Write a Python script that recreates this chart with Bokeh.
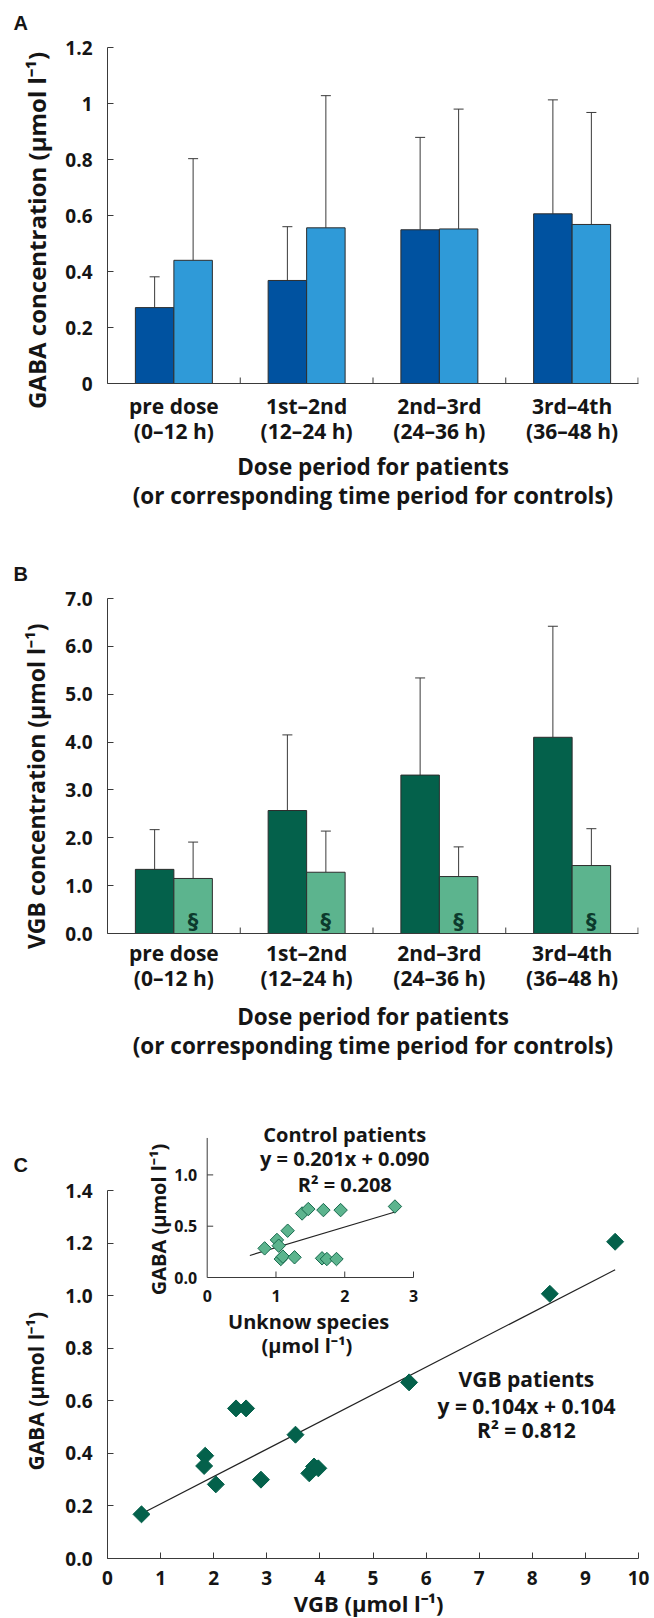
import numpy as np
from bokeh.plotting import figure
from bokeh.layouts import column
from bokeh.models import (ColumnDataSource, FactorRange, Range1d, Whisker, TeeHead,
                          Label, FixedTicker)
from bokeh.transform import dodge
from bokeh.core.properties import value
from bokeh.embed import file_html
from bokeh.resources import INLINE

# ---------------- data ----------------
periods = ["pre dose\n(0–12 h)", "1st–2nd\n(12–24 h)", "2nd–3rd\n(24–36 h)", "3rd–4th\n(36–48 h)"]

gaba_pat_mean = [0.271, 0.368, 0.549, 0.606]
gaba_pat_sd = [0.110, 0.192, 0.330, 0.407]
gaba_ctl_mean = [0.440, 0.556, 0.552, 0.568]
gaba_ctl_sd = [0.363, 0.472, 0.428, 0.400]

vgb_pat_mean = [1.34, 2.57, 3.31, 4.10]
vgb_pat_sd = [0.83, 1.58, 2.03, 2.32]
unk_ctl_mean = [1.15, 1.28, 1.19, 1.42]
unk_ctl_sd = [0.76, 0.86, 0.62, 0.77]
sig_marks = ["§", "§", "§", "§"]

gaba_ticks = [0, 0.2, 0.4, 0.6, 0.8, 1.0, 1.2]
gaba_tick_labels = ["0", "0.2", "0.4", "0.6", "0.8", "1", "1.2"]
vgb_ticks = [0, 1, 2, 3, 4, 5, 6, 7]
vgb_tick_labels = ["0.0", "1.0", "2.0", "3.0", "4.0", "5.0", "6.0", "7.0"]

# panel C, VGB patients
vgb_x = [0.64, 1.84, 1.82, 2.04, 2.42, 2.61, 2.89, 3.54, 3.80, 3.89, 3.97, 5.68, 8.33, 9.56]
vgb_gaba = [0.168, 0.391, 0.352, 0.282, 0.571, 0.571, 0.300, 0.471, 0.324, 0.350, 0.343, 0.670, 1.007, 1.205]
vgb_slope, vgb_icpt = 0.104, 0.104
c_xticks = [0, 1, 2, 3, 4, 5, 6, 7, 8, 9, 10]
c_xtick_labels = ["0", "1", "2", "3", "4", "5", "6", "7", "8", "9", "10"]
c_yticks = [0, 0.2, 0.4, 0.6, 0.8, 1.0, 1.2, 1.4]
c_ytick_labels = ["0.0", "0.2", "0.4", "0.6", "0.8", "1.0", "1.2", "1.4"]

# inset, control patients
ctl_x = [0.835, 1.014, 1.04, 1.07, 1.10, 1.17, 1.27, 1.38, 1.47, 1.69, 1.94, 1.67, 1.74, 1.88, 2.73]
ctl_gaba = [0.284, 0.366, 0.31, 0.18, 0.204, 0.456, 0.197, 0.624, 0.667, 0.657, 0.657, 0.187, 0.18, 0.18, 0.692]
ctl_slope, ctl_icpt = 0.201, 0.090
ctl_fit_x = [0.62, 2.73]
in_xticks = [0, 1, 2, 3]
in_xtick_labels = ["0", "1", "2", "3"]
in_yticks = [0.0, 0.5, 1.0]
in_ytick_labels = ["0.0", "0.5", "1.0"]

# ---------------- style ----------------
FONT = "Open Sans"
TXT = "#151515"
AX = "#3a3a3a"
BAR_LINE = "#2d2d2d"
BLUE_D, BLUE_L = "#0052a0", "#2f9ad8"
GREEN_D, GREEN_L = "#04614b", "#5cb48e"
W = 654
BL, BR = 107, 16   # frame left at x=107, right at x=638
CAT_PX = (638 - 107) / len(periods)   # pixels per category


def style(p, tick_fs="19px", lab_fs="21px"):
    for ax in p.axis:
        ax.axis_line_color = AX
        ax.axis_line_width = 1
        ax.major_tick_in = 6
        ax.major_tick_out = 0
        ax.major_tick_line_color = AX
        ax.minor_tick_line_color = None
        ax.major_label_text_font = FONT
        ax.major_label_text_font_style = "bold"
        ax.major_label_text_font_size = tick_fs
        ax.major_label_text_color = TXT
        ax.axis_label_text_font = FONT
        ax.axis_label_text_font_style = "bold"
        ax.axis_label_text_font_size = lab_fs
        ax.axis_label_text_color = TXT
    p.xgrid.visible = False
    p.ygrid.visible = False
    p.outline_line_color = None


def side_label(p, side, x, y, text, size, angle=0.0, font=FONT, align="center", **kw):
    p.add_layout(Label(x=x, y=y, text=text, angle=angle, text_font=font,
                       text_font_style="bold", text_font_size=size, text_color=TXT,
                       text_align=align, text_baseline="middle", **kw), side)


def bar_panel(height, top_b, bot_b, ymax, ticks, labels, tick_so, lab_so,
              mean1, sd1, mean2, sd2, c1, c2):
    p = figure(width=W, height=height, x_range=FactorRange(*periods), y_range=Range1d(0, ymax),
               output_backend="svg", toolbar_location=None,
               min_border_left=BL, min_border_right=BR, min_border_top=top_b, min_border_bottom=bot_b)
    src = ColumnDataSource(dict(cat=periods, m1=mean1, u1=[m + s for m, s in zip(mean1, sd1)],
                                m2=mean2, u2=[m + s for m, s in zip(mean2, sd2)]))
    off = 0.145
    for m, u, c, o in (("m1", "u1", c1, -off), ("m2", "u2", c2, off)):
        p.vbar(x=dodge("cat", o, range=p.x_range), top=m, width=0.29, source=src,
               fill_color=c, line_color=BAR_LINE, line_width=1)
        p.add_layout(Whisker(base=dodge("cat", o, range=p.x_range), lower=m, upper=u, source=src,
                             line_color=AX, line_width=1,
                             upper_head=TeeHead(size=10, line_color=AX, line_width=1),
                             lower_head=None))
    # category separator ticks (inward)
    sep = [i + 1 for i in range(len(periods))]
    sep[-1] -= 0.003
    p.segment(x0=sep, x1=sep, y0=[0] * len(sep), y1=[ymax * 6 / 336] * len(sep),
              line_color=AX, line_width=1)
    style(p, tick_fs="19px", lab_fs="22.5px")
    p.yaxis.ticker = FixedTicker(ticks=ticks)
    p.yaxis.major_label_overrides = dict(zip(ticks, labels))
    p.yaxis.major_label_standoff = 15
    p.xaxis.major_tick_line_color = None
    p.xaxis.major_label_text_font_size = "21px"
    p.xaxis.major_label_standoff = tick_so
    p.xaxis.major_label_text_line_height = 0.91
    p.xaxis.axis_label = "Dose period for patients\n(or corresponding time period for controls)"
    p.xaxis.axis_label_standoff = lab_so
    p.xaxis.axis_label_text_line_height = 0.95
    return p, src


# ---------------- panel A ----------------
A_TOP, A_FT, A_FB = 0, 47, 383          # figure top, frame top, frame bottom (page px)
pxA = (A_FB - A_FT) / 1.2
pA, srcA = bar_panel(520, A_FT - A_TOP, 520 - A_FB, 1.2, gaba_ticks, gaba_tick_labels, 8, 3,
                     gaba_pat_mean, gaba_pat_sd, gaba_ctl_mean, gaba_ctl_sd, BLUE_D, BLUE_L)
side_label(pA, "left", (36 - 107) / CAT_PX, (A_FB - 230) / pxA,
           "GABA concentration (μmol l⁻¹)", "24px", angle=np.pi / 2)
side_label(pA, "above", (13 - 107) / CAT_PX, 1.2 + (A_FT - 22.5) / pxA, "A", "20px",
           font="Liberation Sans", align="left")

# ---------------- panel B ----------------
B_TOP, B_FT, B_FB, B_BOT = 520, 598, 937, 1064
pxB = (B_FB - B_FT) / 7.0
pB, srcB = bar_panel(B_BOT - B_TOP, B_FT - B_TOP, B_BOT - B_FB, 7.0, vgb_ticks, vgb_tick_labels, 5, 6,
                     vgb_pat_mean, vgb_pat_sd, unk_ctl_mean, unk_ctl_sd, GREEN_D, GREEN_L)
srcB.data["sig"] = sig_marks
pB.text(x=dodge("cat", 0.145, range=pB.x_range), y=0.25, text="sig", source=srcB,
        text_font=value("DejaVu Sans"), text_font_size="21px", text_font_style="bold",
        text_color="#0c3a2d", text_align="center", text_baseline="middle")
side_label(pB, "left", (35 - 107) / CAT_PX, (B_FB - 788) / pxB,
           "VGB concentration (μmol l⁻¹)", "23px", angle=np.pi / 2)
side_label(pB, "above", (13 - 107) / CAT_PX, 7.0 + (B_FT - 573) / pxB, "B", "20px",
           font="Liberation Sans", align="left")

# ---------------- panel C ----------------
C_TOP, C_FT, C_FB = B_BOT, 1110, 1558
pxu = (C_FB - 1190) / 1.4          # pixels per GABA unit in panel C
ppx = (638 - 107) / 10             # pixels per VGB unit in panel C
ymaxC = (C_FB - C_FT) / pxu
pC = figure(width=W, height=1618 - C_TOP, x_range=Range1d(0, 10), y_range=Range1d(0, ymaxC),
            output_backend="svg", toolbar_location=None,
            min_border_left=BL, min_border_right=BR, min_border_top=C_FT - C_TOP,
            min_border_bottom=1618 - C_FB)
# inset coordinate system mapped inside panel C's frame
ipx, ipy = 68.77, 102.6  # pixels per unit in inset
I_X0, I_Y0 = 206.7, 1277  # page position of the inset origin
pC.extra_x_ranges = {"ix": Range1d(-(I_X0 - 107) / ipx, (638 - I_X0) / ipx)}
pC.extra_y_ranges = {"iy": Range1d(-(C_FB - I_Y0) / ipy, (I_Y0 - C_FT) / ipy)}

fit_x = [min(vgb_x), max(vgb_x)]
pC.line(fit_x, [vgb_slope * x + vgb_icpt for x in fit_x], line_color="#222222", line_width=1.2)
pC.scatter(vgb_x, vgb_gaba, marker="square", size=12, angle=np.pi / 4,
           fill_color=GREEN_D, line_color=GREEN_D)

style(pC, tick_fs="19px", lab_fs="22px")
pC.xaxis.bounds = (0, 10)
pC.yaxis.bounds = (0, 1.4)
pC.xaxis.ticker = FixedTicker(ticks=c_xticks)
pC.xaxis.major_label_overrides = dict(zip(c_xticks, c_xtick_labels))
pC.yaxis.ticker = FixedTicker(ticks=c_yticks)
pC.yaxis.major_label_standoff = 15
pC.yaxis.major_label_overrides = dict(zip(c_yticks, c_ytick_labels))
pC.xaxis.major_label_standoff = 12

side_label(pC, "left", (35 - 107) / ppx, (C_FB - 1388) / pxu, "GABA  (μmol l⁻¹)", "21px",
           angle=np.pi / 2)
side_label(pC, "below", (371 - 107) / ppx, -(1602 - C_FB) / pxu, "VGB  (μmol l⁻¹)", "22px")
side_label(pC, "above", (13 - 107) / ppx, (C_FB - 1164.5) / pxu, "C", "20px",
           font="Liberation Sans", align="left")

tf = dict(text_font=value(FONT), text_font_style="bold", text_color=TXT)
pC.text(x=[7.89, 7.89, 7.89], y=[0.681, 0.582, 0.487],
        text=["VGB patients", "y = 0.104x + 0.104", "R² = 0.812"],
        text_font_size="21px", text_align="center", text_baseline="middle", **tf)

# inset
ik = dict(x_range_name="ix", y_range_name="iy")
pC.segment(x0=[0, 0], y0=[0, 0], x1=[0, 3], y1=[1.36, 0], line_color=AX, line_width=1, **ik)
pC.segment(x0=[0] * 2, x1=[6 / ipx] * 2, y0=in_yticks[1:], y1=in_yticks[1:],
           line_color=AX, line_width=1, **ik)
pC.segment(x0=in_xticks[1:], x1=in_xticks[1:], y0=[0] * 3, y1=[6 / ipy] * 3,
           line_color=AX, line_width=1, **ik)
pC.text(x=[-10 / ipx] * 3, y=in_yticks, text=in_ytick_labels, text_font_size="16px",
        text_align="right", text_baseline="middle", **tf, **ik)
pC.text(x=in_xticks, y=[-18 / ipy] * 4, text=in_xtick_labels, text_font_size="16px",
        text_align="center", text_baseline="middle", **tf, **ik)
pC.line(ctl_fit_x, [ctl_slope * x + ctl_icpt for x in ctl_fit_x], line_color="#222222",
        line_width=1.2, **ik)
pC.scatter(ctl_x, ctl_gaba, marker="square", size=9.5, angle=np.pi / 4,
           fill_color=GREEN_L, line_color="#17694d", line_width=1, **ik)
pC.text(x=[2.0, 2.0, 2.0], y=[1.394, 1.160, 0.906],
        text=["Control patients", "y = 0.201x + 0.090", "R² = 0.208"],
        text_font_size="20px", text_align="center", text_baseline="middle", **tf, **ik)
pC.text(x=[1.475, 1.45], y=[-0.429, -0.663], text=["Unknow species", "(μmol l⁻¹)"],
        text_font_size="20px", text_align="center", text_baseline="middle", **tf, **ik)
pC.add_layout(Label(x=(158 - I_X0) / ipx, y=(I_Y0 - 1219) / ipy, angle=np.pi / 2,
                    text="GABA (μmol l⁻¹)", text_font=FONT, text_font_style="bold",
                    text_font_size="20px", text_color=TXT, text_align="center",
                    text_baseline="middle", x_range_name="ix", y_range_name="iy"))

layout = column(pA, pB, pC, spacing=0)
open("out.html", "w").write(file_html(layout, INLINE))
